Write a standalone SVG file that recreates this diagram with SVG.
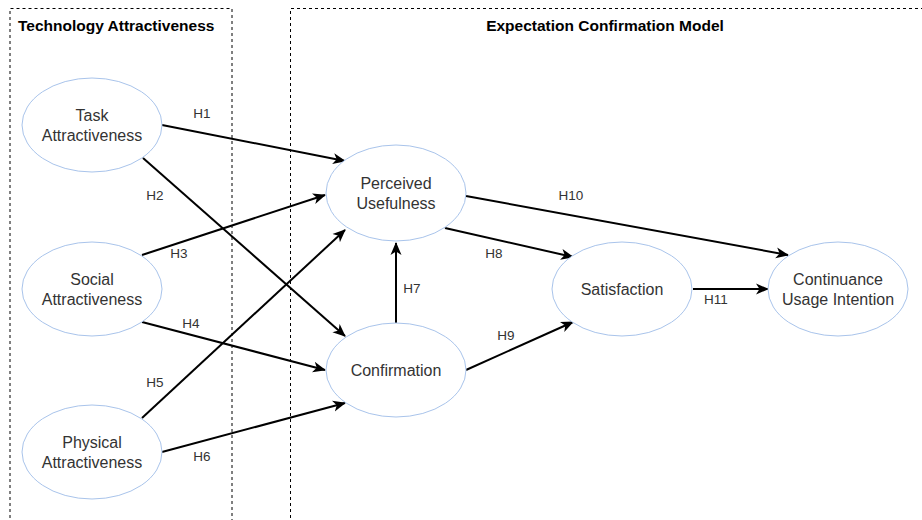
<svg xmlns="http://www.w3.org/2000/svg" width="922" height="520" viewBox="0 0 922 520">
<style>
.frame{fill:none;stroke:#000;stroke-width:1;stroke-dasharray:3 3}
.title{font-family:"Liberation Sans",Arial,sans-serif;font-size:15.5px;font-weight:bold;fill:#000}
.node ellipse{fill:#fff;stroke:#A9C4EB;stroke-width:1}
.node text{font-family:"Liberation Sans",Arial,sans-serif;font-size:16px;fill:#333;text-anchor:middle}
.edge{fill:none;stroke:#000;stroke-width:2;marker-end:url(#arr)}
.lbl{font-family:"Liberation Sans",Arial,sans-serif;font-size:13.5px;fill:#333;text-anchor:middle}
</style>
<defs>
<marker id="arr" markerUnits="userSpaceOnUse" markerWidth="14" markerHeight="12" refX="12" refY="5.5" orient="auto" viewBox="0 0 14 11">
<path d="M0,0 L13,5.5 L0,11 L3.5,5.5 Z" fill="#000"/>
</marker>
</defs>
<rect width="922" height="520" fill="#fff"/>
<g id="groups">
<path class="frame" d="M10,530 V8.5 H232 V530"/>
<path class="frame" d="M290.5,530 V8.5 H930"/>
<text class="title" x="18" y="31">Technology Attractiveness</text>
<text class="title" x="605" y="31" text-anchor="middle">Expectation Confirmation Model</text>
</g>
<g id="connectors">
<line class="edge" x1="162" y1="125" x2="345" y2="161"/>
<line class="edge" x1="143" y1="158" x2="345" y2="336"/>
<line class="edge" x1="142" y1="255" x2="325" y2="195"/>
<line class="edge" x1="142" y1="322" x2="325" y2="370"/>
<line class="edge" x1="142" y1="418" x2="345" y2="230"/>
<line class="edge" x1="162" y1="452" x2="345" y2="403"/>
<line class="edge" x1="396" y1="323" x2="396" y2="243"/>
<line class="edge" x1="445" y1="228" x2="573" y2="257"/>
<line class="edge" x1="466" y1="370" x2="573" y2="322"/>
<line class="edge" x1="466" y1="196" x2="788" y2="255"/>
<line class="edge" x1="693" y1="289" x2="768" y2="289"/>
<text class="lbl" x="202" y="118">H1</text>
<text class="lbl" x="155" y="200">H2</text>
<text class="lbl" x="179" y="258">H3</text>
<text class="lbl" x="191" y="328">H4</text>
<text class="lbl" x="155" y="387">H5</text>
<text class="lbl" x="202" y="461">H6</text>
<text class="lbl" x="412" y="293">H7</text>
<text class="lbl" x="494" y="258">H8</text>
<text class="lbl" x="506" y="340">H9</text>
<text class="lbl" x="571" y="200">H10</text>
<text class="lbl" x="716" y="304">H11</text>
</g>
<g id="task" class="node"><ellipse cx="92" cy="125" rx="70" ry="47"/><text x="92" y="121">Task</text><text x="92" y="141">Attractiveness</text></g>
<g id="social" class="node"><ellipse cx="92" cy="289" rx="70" ry="47"/><text x="92" y="285">Social</text><text x="92" y="305">Attractiveness</text></g>
<g id="physical" class="node"><ellipse cx="92" cy="452" rx="70" ry="47"/><text x="92" y="448">Physical</text><text x="92" y="468">Attractiveness</text></g>
<g id="pu" class="node"><ellipse cx="396" cy="193" rx="70" ry="48"/><text x="396" y="189">Perceived</text><text x="396" y="209">Usefulness</text></g>
<g id="confirmation" class="node"><ellipse cx="396" cy="370" rx="70" ry="47"/><text x="396" y="376">Confirmation</text></g>
<g id="satisfaction" class="node"><ellipse cx="622" cy="289" rx="70" ry="47"/><text x="622" y="295">Satisfaction</text></g>
<g id="continuance" class="node"><ellipse cx="838" cy="289" rx="70" ry="47"/><text x="838" y="285">Continuance</text><text x="838" y="305">Usage Intention</text></g>
</svg>
